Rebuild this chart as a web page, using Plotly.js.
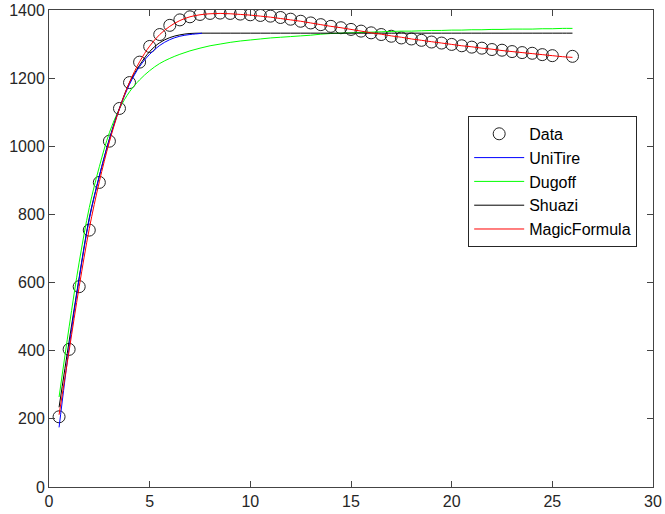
<!DOCTYPE html>
<html>
<head>
<meta charset="utf-8">
<script src="https://cdn.plot.ly/plotly-3.0.1.min.js"></script>
<style>html,body{margin:0;padding:0;background:#fff;}#chart{width:665px;height:514px;}</style>
</head>
<body>
<div id="chart"></div>
<script>
// Measured data
const xData = [0.5,1,1.5,2,2.5,3,3.5,4,4.5,5,5.5,6,6.5,7,7.5,8,8.5,9,9.5,10,10.5,11,11.5,12,12.5,13,13.5,14,14.5,15,15.5,16,16.5,17,17.5,18,18.5,19,19.5,20,20.5,21,21.5,22,22.5,23,23.5,24,24.5,25,26];
const yData = [206,404,588,754,894,1015,1111,1187,1247,1293,1328,1355,1371,1380,1387,1390,1391,1390,1388,1386,1384,1382,1378,1373,1367,1362,1357,1352,1348,1343,1338,1333,1328,1323,1318,1315,1311,1306,1303,1299,1295,1291,1288,1284,1282,1278,1275,1273,1269,1266,1264];

// Fitted model curves
const xFit = [0.5,1,1.5,2,2.5,3,3.5,4,4.5,5,5.5,6,6.5,7,7.5,8,8.5,9,9.5,10,10.5,11,11.5,12,12.5,13,13.5,14,14.5,15,15.5,16,16.5,17,17.5,18,18.5,19,19.5,20,20.5,21,21.5,22,22.5,23,23.5,24,24.5,25,25.5,26];
const xUni = [0.5,1,1.5,2,2.5,3,3.5,4,4.5,5,5.5,6,6.5,7,7.5,7.6];
const yUniTire = [175,410,612,785,913,1020,1110,1182,1234,1270,1296,1313,1323,1328,1331,1332];
const yDugoff = [264,470,660,820,940,1040,1110,1160,1195,1222,1243,1258,1270,1280,1288,1295,1300,1305,1309,1312,1315,1318,1320,1322,1324,1326,1329,1331,1332,1333,1334,1335,1336,1337,1338,1338,1339,1340,1340,1341,1341,1342,1342,1343,1343,1344,1344,1344,1345,1345,1346,1346];
const yShuazi = [234,428,615,790,912,1022,1112,1187,1238,1278,1304,1319,1327,1331,1332,1332,1332,1332,1332,1332,1332,1332,1332,1332,1332,1332,1332,1332,1332,1332,1332,1332,1332,1332,1332,1332,1332,1332,1332,1332,1332,1332,1332,1332,1332,1332,1332,1332,1332,1332,1332,1332];
const yMagic = [212,400,588,758,896,1013,1110,1188,1248,1294,1328,1352,1369,1380,1386,1389,1390,1389,1387,1385,1382,1379,1375,1371,1367,1362,1357,1352,1348,1343,1338,1333,1329,1324,1320,1315,1311,1307,1303,1299,1295,1292,1288,1285,1281,1278,1275,1272,1269,1266,1263,1261];

const xTicks = [0,5,10,15,20,25,30];
const yTicks = [0,200,400,600,800,1000,1200,1400];

const traces = [
  {x: xData, y: yData, name: 'Data', mode: 'markers', type: 'scatter', legendrank: 1,
   marker: {symbol: 'circle-open', size: 12, color: '#222', line: {width: 1}}},
  {x: xFit, y: yDugoff, name: 'Dugoff', mode: 'lines', type: 'scatter', legendrank: 3,
   line: {color: '#00ff00', width: 1, shape: 'spline'}},
  {x: xFit, y: yShuazi, name: 'Shuazi', mode: 'lines', type: 'scatter', legendrank: 4,
   line: {color: '#000000', width: 1, shape: 'spline'}},
  {x: xUni, y: yUniTire, name: 'UniTire', mode: 'lines', type: 'scatter', legendrank: 2,
   line: {color: '#0000ff', width: 1, shape: 'spline'}},
  {x: xFit, y: yMagic, name: 'MagicFormula', mode: 'lines', type: 'scatter', legendrank: 5,
   line: {color: '#ff0000', width: 1, shape: 'spline'}}
];

const axisCommon = {
  showgrid: false, zeroline: false, showline: true, linecolor: '#444', linewidth: 1,
  mirror: 'ticks', ticks: 'inside', ticklen: 6, tickcolor: '#444', tickwidth: 1,
  tickfont: {family: '"Liberation Sans", Arial, sans-serif', size: 16, color: '#262626'}
};

const layout = {
  width: 665, height: 514,
  margin: {l: 49, r: 12, t: 10, b: 27, pad: 0},
  paper_bgcolor: '#ffffff', plot_bgcolor: '#ffffff',
  showlegend: true,
  legend: {x: 0.694, y: 0.778, xanchor: 'left', yanchor: 'top',
    bgcolor: '#ffffff', bordercolor: '#262626', borderwidth: 1,
    itemwidth: 50, traceorder: 'normal',
    font: {family: '"Liberation Sans", Arial, sans-serif', size: 16, color: '#000'},
    tracegroupgap: 0},
  xaxis: Object.assign({}, axisCommon, {range: [0, 30], tickvals: xTicks, ticktext: xTicks.map(String)}),
  yaxis: Object.assign({}, axisCommon, {range: [0, 1400], tickvals: yTicks, ticktext: yTicks.map(String)})
};

Plotly.newPlot('chart', traces, layout, {displayModeBar: false, staticPlot: true});
</script>
</body>
</html>
